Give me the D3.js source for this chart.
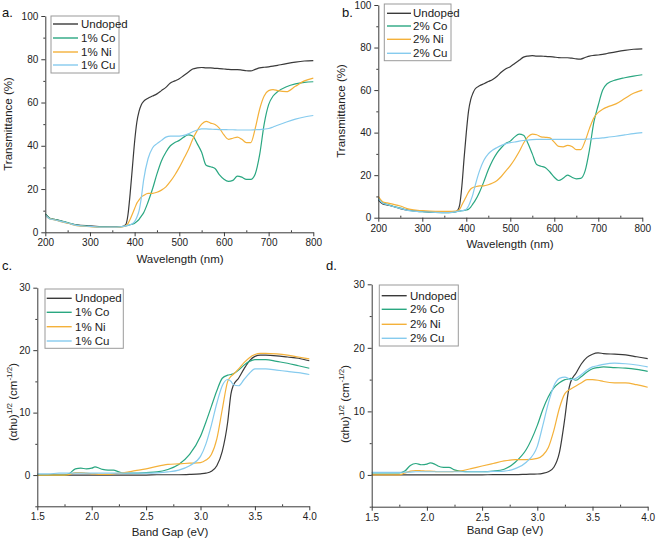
<!DOCTYPE html>
<html><head><meta charset="utf-8">
<script src="https://cdn.jsdelivr.net/npm/d3@7"></script>
<style>
html,body{margin:0;padding:0;background:#fff;}
text{font-family:Arial,"Liberation Sans",sans-serif;}
</style></head>
<body><svg id="chart" width="656" height="544"></svg>
<script>
// ---------- DATA ----------
const wavelength = [200,210,220,230,250,270,300,330,360,375, 380,385,390,395,400,405,410,415,420,430,
  440,450,460,470,480,490,500,510,520,530, 540,550,560,570,580,590,600,610,620,630,
  640,650,660,670,680,690,700,710,720,740, 760,780,800];
const wlTicks = [200,300,400,500,600,700,800];
const tTicks = [0,20,40,60,80,100];

const undoped_a = [8.5,6.5,6,5.5,4.3,3.5,3,2.6,2.5,2.8, 3.5,8,18,30,42,51,56,59,60.5,62,
  63,64,65.5,67,69,70,71,72.5,74,75.5, 76,76.2,76,76,75.8,75.7,75.5,75.3,75.2,75.2,
  75,74.7,74.6,75.3,76,76.3,76.5,76.8,77.2,78, 78.7,79.2,79.4];
const co1_a = [8.5,6.5,6,5.5,4.5,3.3,2.8,2.5,2.4,2.7, 3,3.2,3.5,3.8,4.2,5,6,7.5,9,14,
  20,27,33,37,40,41.5,42.5,44,45,44.5, 41,37,31,30.3,29.5,26.5,24.5,23.5,24,26,
  25.5,24.5,24.5,27,36,50,59,63,65,67.3, 68.6,69.3,69.6];
const ni1_a = [8,6.2,5.8,5.2,4.2,3.1,2.6,2.3,2.3,2.6, 3,4,6,8.5,11,13.5,15,16.3,17,18,
  18,18.5,19.5,21,23.5,26.5,30,34,38,43, 47,50,51.3,50.5,49.8,48,45,43,43.5,44,
  43,41.5,41.5,48,57,63,65.5,66,65.5,65, 67.5,70,71.3];
const cu1_a = [8,6.2,5.8,5.3,4.3,3.2,2.7,2.4,2.4,2.7, 3,3.2,3.5,4,5,7,10,16,24,34,
  39,41,42.5,44,44.5,44.5,44.5,44.8,45.5,46.5, 47.3,47.8,47.8,47.7,47.6,47.5,47.5,47.4,47.4,47.3,
  47.3,47.3,47.3,47.4,47.5,47.7,48,48.7,49.5,51, 52.3,53.3,54];

const undoped_b = [8.3,6.5,6,5.5,4.3,3.5,3,2.6,2.5,2.8, 3.3,6,15,28,40,50,55.5,58.5,60.5,62,
  63,64,65,66.5,68.5,70,71,72.5,74,75.5, 76,76.2,76,76,75.8,75.7,75.5,75.3,75.2,75.2,
  75,74.7,74.6,75.3,76,76.3,76.5,76.8,77.2,78, 78.7,79.2,79.4];
const co2_b = [9,7,6.3,5.6,4.5,3.4,2.8,2.5,2.4,2.7, 3,3.1,3.3,3.4,3.6,4,5,6.5,8,12,
  17,22.5,27,30.5,33,35,36,38,39.3,38.8, 35,30,25,24.2,23.5,21.5,19,17.5,18.5,20,
  19,18.3,18.5,22,32,45,53,60,63,64.8, 65.8,66.6,67.2];
const ni2_b = [10,7.5,7,6.5,5.5,4,3.3,3,3,3.1, 3.2,4,6,8,10,12,13.5,14.2,14.5,15,
  15,15.5,16.3,17.5,19.5,22,24.5,27.5,31,35, 38,39.3,39,38,37.8,37.5,35.5,33.5,33.3,34,
  33.5,32,32,36,42,47,49.5,51,52,53.5, 56,58.5,60];
const cu2_b = [9,6.8,6.2,5.5,4.4,3.3,2.8,2.5,2.4,2.7, 3,3.1,3.3,3.5,4,5.5,8,11,15,22,
  27,30,31.8,33,34,34.8,35.3,35.6,36,36.3, 36.5,36.7,36.8,36.8,36.8,36.8,36.8,36.8,36.8,36.8,
  36.8,36.8,36.8,36.9,37,37.2,37.3,37.5,37.8,38.3, 38.9,39.5,40];

const bandGap = [1.5,1.6,1.7,1.75,1.8,1.85,1.9,1.95,2.0,2.03, 2.07,2.1,2.15,2.2,2.25,2.3,2.4,2.5,2.6,2.7,
  2.8,2.9,3.0,3.05,3.1,3.15,3.2,3.25,3.28,3.3, 3.35,3.4,3.45,3.5,3.55,3.6,3.7,3.8,3.9,4.0];
const bgTicks = [1.5,2.0,2.5,3.0,3.5,4.0];
const taucTicks = [0,10,20,30];

const undoped_c = [0,0,0,0,0,0,0,0,0,0, 0,0,0,0,0,0,0,0,0.05,0.05,
  0.05,0.1,0.2,0.3,0.6,1.5,3.8,8.5,13,14.3, 15.5,17,18.3,19,19.2,19.2,19.1,18.9,18.7,18.3];
const co1_c = [0,0,0,0,0.3,1,1.1,1,1.1,1.3, 1.1,0.9,0.8,0.8,0.5,0.3,0.3,0.4,0.5,0.9,
  1.7,3.3,6.2,8.5,11,13.5,15.5,16,16.1,16.2, 16.8,17.6,18.2,18.5,18.5,18.5,18.2,17.9,17.5,17.1];
const ni1_c = [0,0,0,0,0.1,0.4,0.4,0.3,0.2,0.2, 0.1,0.1,0.1,0.2,0.3,0.4,0.7,1.0,1.4,1.7,
  1.8,1.9,2.0,2.4,3.3,5.8,10.5,15,15.8,16.1, 17,18,18.8,19.3,19.5,19.5,19.4,19.2,18.9,18.6];
const cu1_c = [0.2,0.2,0.3,0.3,0.3,0.3,0.3,0.3,0.3,0.3, 0.3,0.3,0.3,0.3,0.3,0.3,0.3,0.3,0.35,0.5,
  0.8,1.5,3,5,8,11.5,14.3,15.3,15,14.5, 14.3,15.3,16.3,17,17,17,16.8,16.6,16.4,16.1];

const undoped_d = [0,0,0,0,0,0,0,0,0,0, 0,0,0,0,0,0,0,0,0.05,0.05,
  0.05,0.1,0.15,0.25,0.5,1.2,3.5,9,13,14.5, 16,17.5,18.5,19,19.2,19.1,19,18.9,18.6,18.3];
const co2_d = [0.3,0.3,0.3,0.3,0.6,1.5,1.8,1.6,1.7,1.9, 1.7,1.4,1.2,1.2,0.8,0.6,0.5,0.5,0.6,0.9,
  2,4,7.8,10.3,12.3,13.7,14.5,15,15.1,15.2, 14.9,15.5,16.2,16.7,16.9,17,16.9,16.8,16.6,16.3];
const ni2_d = [0,0,0,0,0.3,0.6,0.7,0.65,0.6,0.6, 0.55,0.5,0.5,0.5,0.55,0.6,1,1.4,1.8,2.2,
  2.4,2.4,2.6,3.1,4.3,7,10.5,12.8,13.3,13.5, 14,14.5,15,15,14.9,14.7,14.5,14.5,14.2,13.8];
const cu2_d = [0.4,0.4,0.4,0.4,0.45,0.45,0.5,0.5,0.5,0.5, 0.5,0.5,0.5,0.5,0.5,0.5,0.5,0.5,0.55,0.6,
  1,2,4.5,7.8,11.3,14,15.2,15.4,15.2,15, 15.2,15.8,16.5,17,17.2,17.4,17.6,17.5,17.3,17];

const labels1 = ["Undoped","1% Co","1% Ni","1% Cu"];
const labels2 = ["Undoped","2% Co","2% Ni","2% Cu"];

// ---------- STYLE ----------
const colors = ["#3a3a3a","#2aa781","#f4b13a","#86cbee"];
const axisColor = "#3a3a3a";

const panels = [
  {tag:"a.", tagPos:[2,17], x:wavelength, ys:[undoped_a,co1_a,ni1_a,cu1_a], names:labels1,
   xd:[200,800], yd:[0,100], xr:[45.3,313.3], yr:[232.3,16], xt:wlTicks, yt:tTicks,
   xminor:[250,350,450,550,650,750], yminor:[10,30,50,70,90], xfmt:d3.format("d"),
   xtitle:"Wavelength (nm)", xtitlePos:[180,263], ytitle:"transmit", ytitlePos:[12,124],
   leg:{box:[51,16,68,57], ys:[24,38,52,65], lx:[53,78], tx:81}},
  {tag:"b.", tagPos:[342,17], x:wavelength, ys:[undoped_b,co2_b,ni2_b,cu2_b], names:labels2,
   xd:[200,800], yd:[0,100], xr:[378.3,642.3], yr:[217.7,5], xt:wlTicks, yt:tTicks,
   xminor:[250,350,450,550,650,750], yminor:[10,30,50,70,90], xfmt:d3.format("d"),
   xtitle:"Wavelength (nm)", xtitlePos:[510,248], ytitle:"transmit", ytitlePos:[345,111],
   leg:{box:[384.3,4,66.7,56.7], ys:[13.3,26,39.3,53.3], lx:[387,411], tx:413}},
  {tag:"c.", tagPos:[2,270], x:bandGap, ys:[undoped_c,co1_c,ni1_c,cu1_c], names:labels1,
   xd:[1.5,4.0], yd:[-5,30], xr:[37.3,309.3], yr:[506.3,287.7], xt:bgTicks, yt:taucTicks,
   xminor:[1.75,2.25,2.75,3.25,3.75], yminor:[-5,5,15,25], xfmt:d3.format(".1f"),
   xtitle:"Band Gap (eV)", xtitlePos:[170,536], ytitle:"tauc", ytitlePos:[17,402],
   leg:{box:[45,289,78.3,59.3], ys:[298.3,312.3,326.7,341], lx:[46.7,71.7], tx:75}},
  {tag:"d.", tagPos:[326,270], x:bandGap, ys:[undoped_d,co2_d,ni2_d,cu2_d], names:labels2,
   xd:[1.5,4.0], yd:[-5,30], xr:[371.7,647.7], yr:[506.7,284.3], xt:bgTicks, yt:taucTicks,
   xminor:[1.75,2.25,2.75,3.25,3.75], yminor:[-5,5,15,25], xfmt:d3.format(".1f"),
   xtitle:"Band Gap (eV)", xtitlePos:[505,534], ytitle:"tauc", ytitlePos:[349,404],
   leg:{box:[379.3,285,79,61], ys:[295.7,309.3,324.3,338.3], lx:[381.7,406.7], tx:410}}
];

const svg = d3.select("#chart");
svg.append("rect").attr("width",656).attr("height",544).attr("fill","#fff");

panels.forEach(p => {
  const g = svg.append("g");
  const x = d3.scaleLinear().domain(p.xd).range(p.xr);
  const y = d3.scaleLinear().domain(p.yd).range(p.yr);
  const line = d3.line().x(d=>x(d[0])).y(d=>y(d[1])).curve(d3.curveMonotoneX);

  // series
  p.ys.forEach((vals,i) => {
    const pts = p.x.map((xv,j)=>[xv,vals[j]]);
    g.append("path").attr("d",line(pts)).attr("fill","none")
      .attr("stroke",colors[i]).attr("stroke-width",1.2).attr("stroke-linejoin","round");
  });
  // redraw undoped on top? keep order: undoped first like reference (under others)

  // axes
  const xAxisY = y(p.yd[0]);
  const xa = g.append("g").attr("transform",`translate(0,${xAxisY})`)
    .call(d3.axisBottom(x).tickValues(p.xt).tickFormat(p.xfmt).tickSize(4).tickSizeOuter(0).tickPadding(3));
  g.append("g").attr("transform",`translate(0,${xAxisY})`)
    .call(d3.axisBottom(x).tickValues(p.xminor).tickFormat("").tickSize(-2).tickSizeOuter(0))
    .select(".domain").remove();
  const ya = g.append("g").attr("transform",`translate(${p.xr[0]},0)`)
    .call(d3.axisLeft(y).tickValues(p.yt).tickSize(4).tickSizeOuter(0).tickPadding(3));
  g.append("g").attr("transform",`translate(${p.xr[0]},0)`)
    .call(d3.axisLeft(y).tickValues(p.yminor).tickFormat("").tickSize(2).tickSizeOuter(0))
    .select(".domain").remove();
  g.selectAll(".domain, .tick line").attr("stroke",axisColor).attr("stroke-width",1);
  g.selectAll(".tick text").attr("fill","#222").attr("font-size",10)
    .attr("font-family","Arial, 'Liberation Sans', sans-serif");

  // titles
  g.append("text").attr("x",p.xtitlePos[0]).attr("y",p.xtitlePos[1]).attr("text-anchor","middle")
    .attr("font-size",11.5).attr("fill","#222").text(p.xtitle);
  const yt = g.append("text").attr("transform",`translate(${p.ytitlePos[0]},${p.ytitlePos[1]}) rotate(-90)`)
    .attr("text-anchor","middle").attr("font-size",11.5).attr("fill","#222");
  if (p.ytitle === "transmit") {
    yt.text("Transmittance (%)");
  } else {
    yt.append("tspan").text("(\u03B1h\u03C5)");
    yt.append("tspan").attr("font-size",8).attr("dy",-5).text("1/2");
    yt.append("tspan").attr("dy",5).text(" (cm");
    yt.append("tspan").attr("font-size",8).attr("dy",-5).text("-1/2");
    yt.append("tspan").attr("dy",5).text(")");
  }
  g.append("text").attr("x",p.tagPos[0]).attr("y",p.tagPos[1]).attr("font-size",13)
    .attr("fill","#111").text(p.tag);

  // legend
  const L = p.leg;
  g.append("rect").attr("x",L.box[0]).attr("y",L.box[1]).attr("width",L.box[2]).attr("height",L.box[3])
    .attr("fill","#fff").attr("stroke","#9a9a9a").attr("stroke-width",1);
  p.names.forEach((nm,i)=>{
    g.append("line").attr("x1",L.lx[0]).attr("x2",L.lx[1]).attr("y1",L.ys[i]).attr("y2",L.ys[i])
      .attr("stroke",colors[i]).attr("stroke-width",1.4);
    g.append("text").attr("x",L.tx).attr("y",L.ys[i]+4).attr("font-size",11.5).attr("fill","#222").text(nm);
  });
});
</script></body></html>
